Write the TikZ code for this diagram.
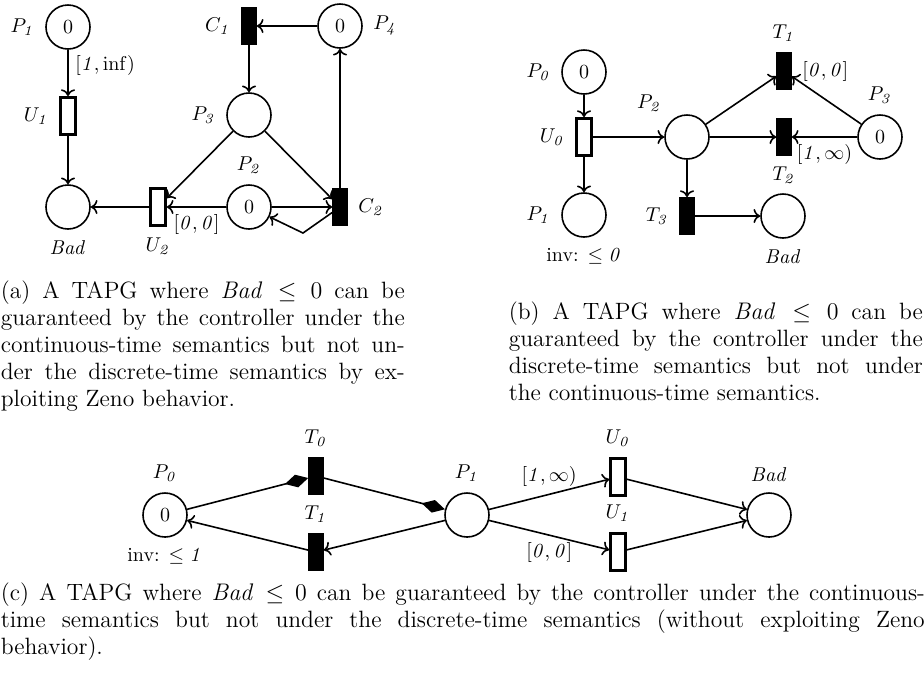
\documentclass[tikz,border=0pt]{standalone}
\usetikzlibrary{arrows.meta}
\tikzset{
  place/.style={circle,draw,thick,minimum size=22pt,inner sep=0pt},
  ctrl/.style={rectangle,draw,fill=black,thick,minimum width=7pt,minimum height=18.2pt,inner sep=0pt},
  unctrl/.style={rectangle,draw,fill=white,line width=1.6pt,minimum width=7.2pt,minimum height=18.4pt,inner sep=0pt},
  caption/.style={anchor=north west,inner sep=0pt,align=justify,font=\fontsize{11.8pt}{13.5pt}\selectfont},
  zeno/.style={-{Diamond[length=12pt,width=6.5pt]}}
}
\begin{document}
\begin{tikzpicture}[x=0.5pt,y=-0.5pt,thick,label distance=1.5pt]
\useasboundingbox (0,0) rectangle (924,677);

% (a)
\node[place,label=left:$P_{\mathit{1}}$] (ap1) at (68,27) {0};
\node[unctrl,label=left:$U_{\mathit{1}}$] (au1) at (68,116) {};
\node[place,label=below:$\mathit{Bad}$] (abad) at (68,207) {};
\node[unctrl,label=below:$U_{\mathit{2}}$] (au2) at (158,207) {};
\node[place,label=above:$P_{\mathit{2}}$] (ap2) at (249,207) {0};
\node[ctrl,label=right:$C_{\mathit{2}}$] (ac2) at (340,207) {};
\node[place,label=left:$P_{\mathit{3}}$] (ap3) at (249,115) {};
\node[ctrl,label=left:$C_{\mathit{1}}$] (ac1) at (249,26) {};
\node[place,label=right:$P_{\mathit{4}}$] (ap4) at (340,26) {0};
\coordinate (abend) at (303,233);
\draw[->] (ap1) -- node[right,pos=0.35] {$[\mathit{1},\inf)$} (au1);
\draw[->] (ap2) -- node[below] {$[\mathit{0},\mathit{0}]$} (au2);
\foreach \s/\t in {au1/abad,au2/abad,ap3/au2,ap3/ac2,ap2/ac2,ac2/ap4,ap4/ac1,ac1/ap3}
  \draw[->] (\s) -- (\t);
\draw[->] (ac2) -- (abend) -- (ap2);

% (b)
\node[place,label=left:$P_{\mathit{0}}$] (bp0) at (584,72) {0};
\node[unctrl,label=left:$U_{\mathit{0}}$] (bu0) at (584,137) {};
\node[place,label=left:$P_{\mathit{1}}$,label=below:{inv: $\leq\mathit{0}$}] (bp1) at (584,215) {};
\node[place,label=above left:$P_{\mathit{2}}$] (bp2) at (687,137) {};
\node[ctrl,label=above:$T_{\mathit{1}}$,label={right:$[\mathit{0},\mathit{0}]$}] (bt1) at (784,71) {};
\node[ctrl,label=below:$T_{\mathit{2}}$] (bt2) at (784,137) {};
\node[place,label=above:$P_{\mathit{3}}$] (bp3) at (880,137) {0};
\node[ctrl,label=left:$T_{\mathit{3}}$] (bt3) at (687,216) {};
\node[place,label=below:$\mathit{Bad}$] (bbad) at (783,216) {};
\draw[->] (bp3) -- node[below] {$[\mathit{1},\infty)$} (bt2);
\foreach \s/\t in {bp0/bu0,bu0/bp1,bu0/bp2,bp2/bt1,bp2/bt2,bp3/bt1,bp2/bt3,bt3/bbad}
  \draw[->] (\s) -- (\t);

% (c)
\node[place,label=above:$P_{\mathit{0}}$,label=below:{inv: $\leq\mathit{1}$}] (cp0) at (165,515) {0};
\node[ctrl,label=above:$T_{\mathit{0}}$] (ct0) at (316,476) {};
\node[ctrl,label=above:$T_{\mathit{1}}$] (ct1) at (316,552) {};
\node[place,label=above:$P_{\mathit{1}}$] (cp1) at (467,515) {};
\node[unctrl,label=above:$U_{\mathit{0}}$] (cu0) at (618,477) {};
\node[unctrl,label=above:$U_{\mathit{1}}$] (cu1) at (618,552) {};
\node[place,label=above:$\mathit{Bad}$] (cbad) at (769,515) {};
\draw[zeno] (cp0) -- (ct0);
\draw[zeno] (ct0) -- (cp1);
\draw[->] (cp1) -- node[above] {$[\mathit{1},\infty)$} (cu0);
\draw[->] (cp1) -- node[below] {$[\mathit{0},\mathit{0}]$} (cu1);
\foreach \s/\t in {cp1/ct1,ct1/cp0,cu0/cbad,cu1/cbad}
  \draw[->] (\s) -- (\t);

% captions
\node[caption,text width=202pt] (capa) at (0,280) {(a) A TAPG where $\mathit{Bad}\leq 0$ can be\linebreak guaranteed by the controller under the\linebreak continuous-time semantics but not un-\linebreak der the discrete-time semantics by ex-\linebreak ploiting Zeno behavior.};
\node[caption,text width=207pt] (capb) at (508,301) {(b) A TAPG where $\mathit{Bad}\leq 0$ can be\linebreak guaranteed by the controller under the\linebreak discrete-time semantics but not under\linebreak the continuous-time semantics.};
\node[caption,text width=462pt] (capc) at (0,582) {(c) A TAPG where $\mathit{Bad}\leq 0$ can be guaranteed by the controller under the continuous-\linebreak time semantics but not under the discrete-time semantics (without exploiting Zeno\linebreak behavior).};
\end{tikzpicture}
\end{document}
